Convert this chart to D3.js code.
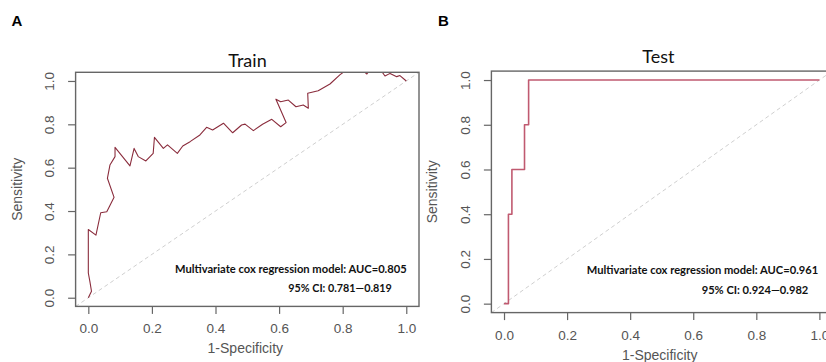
<!DOCTYPE html>
<html>
<head>
<meta charset="utf-8">
<script src="https://cdn.jsdelivr.net/npm/d3@7"></script>
<style>
  body { margin: 0; background: #fff; }
</style>
</head>
<body>
<div id="chart"></div>
<script>
// ROC data
var trainFpr = [0, 0.01, 0.005, 0, 0, 0.024, 0.039, 0.058, 0.066, 0.081, 0.06, 0.068, 0.084, 0.084,
  0.131, 0.144, 0.157, 0.181, 0.204, 0.208, 0.236, 0.249, 0.28, 0.297, 0.32, 0.351, 0.372, 0.391,
  0.425, 0.454, 0.482, 0.493, 0.519, 0.548, 0.577, 0.605, 0.622, 0.59, 0.605, 0.629, 0.653, 0.676,
  0.692, 0.69, 0.723, 0.76, 0.791, 0.82, 0.855, 0.876, 0.89, 0.915, 0.933, 0.949, 0.97, 0.98, 1.0];
var trainTpr = [0, 0.03, 0.074, 0.114, 0.315, 0.289, 0.392, 0.397, 0.42, 0.463, 0.551, 0.612, 0.651, 0.694,
  0.608, 0.689, 0.651, 0.631, 0.666, 0.74, 0.689, 0.705, 0.666, 0.7, 0.72, 0.751, 0.786, 0.774,
  0.805, 0.761, 0.797, 0.801, 0.771, 0.8, 0.823, 0.789, 0.808, 0.916, 0.904, 0.912, 0.881, 0.889,
  0.874, 0.943, 0.955, 0.986, 1.028, 1.06, 1.06, 1.032, 1.06, 1.06, 1.023, 1.035, 1.02, 1.025, 1.0];

var testFpr = [0, 0.014, 0.014, 0.025, 0.025, 0.065, 0.065, 0.078, 0.078, 1.0];
var testTpr = [0, 0, 0.4, 0.4, 0.6, 0.6, 0.8, 0.8, 1.0, 1.0];

var ticks = [0, 0.2, 0.4, 0.6, 0.8, 1.0];
var panelLetters = ["A", "B"];
var titles = ["Train", "Test"];
var aucLabels = ["Multivariate cox regression model: AUC=0.805", "Multivariate cox regression model: AUC=0.961"];
var ciLabels = ["95% CI: 0.781\u20140.819", "95% CI: 0.924\u20140.982"];

var svg = d3.select("#chart")
  .append("svg")
  .attr("width", 826)
  .attr("height", 362);

// plot boxes of the two panels (R style, 4% padding on both axes)
var panels = [
  { left: 75.6, right: 419, top: 72.3, bottom: 306.4, letterX: 11.5, titleX: 247.5, titleY: 66.5,
    fpr: trainFpr, tpr: trainTpr, color: "#8a2c3c", lw: 1.1,
    auc: [175, 406.7, 272.7], ci: [288.3, 391.7, 291.7] },
  { left: 491.4, right: 832, top: 71.1, bottom: 312.6, letterX: 438, titleX: 658.3, titleY: 63.3,
    fpr: testFpr, tpr: testTpr, color: "#c05a70", lw: 1.6,
    auc: [586.7, 818.3, 274], ci: [701.7, 808.3, 294.3] }
];

var axisColor = "#666";
var tickFont = "'Liberation Sans', Arial, sans-serif";
var noteFont = "Lato, 'Open Sans', sans-serif";

panels.forEach(function (p, i) {
  var x = d3.scaleLinear().domain([-0.04, 1.04]).range([p.left, p.right]);
  var y = d3.scaleLinear().domain([-0.04, 1.04]).range([p.bottom, p.top]);

  var clipId = "clip" + i;
  svg.append("clipPath").attr("id", clipId)
    .append("rect")
    .attr("x", p.left).attr("y", p.top)
    .attr("width", p.right - p.left).attr("height", p.bottom - p.top);

  // diagonal reference line
  svg.append("line")
    .attr("clip-path", "url(#" + clipId + ")")
    .attr("x1", x(-0.04)).attr("y1", y(-0.04))
    .attr("x2", x(1.04)).attr("y2", y(1.04))
    .attr("stroke", "#cfcfcf")
    .attr("stroke-width", 1)
    .attr("stroke-dasharray", "4,3");

  // ROC curve
  var pts = p.fpr.map(function (d, k) { return [d, p.tpr[k]]; });
  svg.append("path")
    .datum(pts)
    .attr("clip-path", "url(#" + clipId + ")")
    .attr("fill", "none")
    .attr("stroke", p.color)
    .attr("stroke-width", p.lw)
    .attr("stroke-linejoin", "round")
    .attr("d", d3.line()
      .x(function (d) { return x(d[0]); })
      .y(function (d) { return y(d[1]); }));

  // box
  svg.append("rect")
    .attr("x", p.left).attr("y", p.top)
    .attr("width", p.right - p.left).attr("height", p.bottom - p.top)
    .attr("fill", "none")
    .attr("stroke", axisColor)
    .attr("stroke-width", 1.4);

  // x axis
  var gx = svg.append("g")
    .attr("transform", "translate(0," + p.bottom + ")")
    .call(d3.axisBottom(x).tickValues(ticks).tickSize(7.5).tickPadding(10)
      .tickFormat(d3.format(".1f")));
  gx.select(".domain").remove();
  gx.selectAll("line").attr("stroke", axisColor).attr("stroke-width", 1.2);
  gx.selectAll("text")
    .attr("fill", "#555")
    .style("font-family", tickFont)
    .style("font-size", "13.5px");

  // y axis with rotated labels
  var gy = svg.append("g")
    .attr("transform", "translate(" + p.left + ",0)")
    .call(d3.axisLeft(y).tickValues(ticks).tickSize(7.5).tickFormat(d3.format(".1f")));
  gy.select(".domain").remove();
  gy.selectAll("line").attr("stroke", axisColor).attr("stroke-width", 1.2);
  gy.selectAll("text")
    .attr("x", null).attr("dy", null)
    .attr("fill", "#555")
    .attr("text-anchor", "middle")
    .attr("dominant-baseline", "central")
    .attr("transform", "translate(-25.8,0) rotate(-90)")
    .style("font-family", tickFont)
    .style("font-size", "13.5px");

  // axis titles
  svg.append("text")
    .attr("x", (p.left + p.right) / 2 - 2)
    .attr("y", p.bottom + 47)
    .attr("text-anchor", "middle")
    .attr("fill", "#555")
    .style("font-family", tickFont)
    .style("font-size", "14px")
    .text("1-Specificity");

  svg.append("text")
    .attr("transform", "translate(" + (p.left - 54) + "," + ((p.top + p.bottom) / 2) + ") rotate(-90)")
    .attr("text-anchor", "middle")
    .attr("fill", "#555")
    .style("font-family", tickFont)
    .style("font-size", "14px")
    .text("Sensitivity");

  // title and panel letter
  svg.append("text")
    .attr("x", p.titleX).attr("y", p.titleY)
    .attr("text-anchor", "middle")
    .attr("fill", "#111")
    .style("font-family", noteFont)
    .style("font-size", "18px")
    .text(titles[i]);

  svg.append("text")
    .attr("x", p.letterX).attr("y", 26)
    .attr("fill", "#000")
    .style("font-family", tickFont)
    .style("font-weight", "bold")
    .style("font-size", "15px")
    .text(panelLetters[i]);

  // AUC annotation
  svg.append("text")
    .attr("x", p.auc[0]).attr("y", p.auc[2])
    .attr("textLength", p.auc[1] - p.auc[0])
    .attr("lengthAdjust", "spacingAndGlyphs")
    .attr("fill", "#111")
    .style("font-family", noteFont)
    .style("font-weight", "bold")
    .style("font-size", "10.8px")
    .text(aucLabels[i]);

  svg.append("text")
    .attr("x", p.ci[0]).attr("y", p.ci[2])
    .attr("textLength", p.ci[1] - p.ci[0])
    .attr("lengthAdjust", "spacingAndGlyphs")
    .attr("fill", "#111")
    .style("font-family", noteFont)
    .style("font-weight", "bold")
    .style("font-size", "10.8px")
    .text(ciLabels[i]);
});
</script>
</body>
</html>
